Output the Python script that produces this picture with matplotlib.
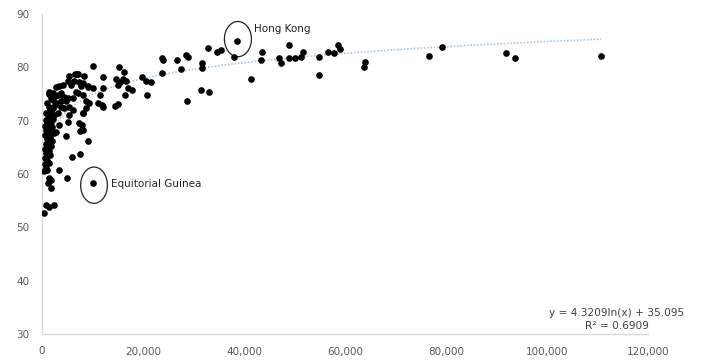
import matplotlib
matplotlib.use("Agg")
import matplotlib.pyplot as plt
from matplotlib.patches import Ellipse
import numpy as np

# GDP per capita (x) and life expectancy (y)
gdp_high = [31600, 31600, 31400, 33100, 32900, 34700, 35400, 38100, 38670, 41400,
            43600, 43300, 47000, 47300, 48850, 48850, 50100, 51350, 51600, 54850,
            54850, 56700, 57800, 58700, 59000, 63950, 63760, 76600, 79200, 91900,
            93650, 110700]
life_high = [80.9, 79.95, 75.75, 75.4, 83.55, 82.8, 83.25, 81.9, 85.0, 77.9,
             82.8, 81.3, 81.7, 80.9, 84.25, 81.7, 81.7, 82.0, 82.9, 81.9,
             78.55, 82.8, 82.6, 84.2, 83.4, 81.05, 80.1, 82.2, 83.75, 82.75,
             81.7, 82.2]

gdp_mid = [12000, 12150, 11800, 12150, 15250, 16250, 14650, 15450, 15950, 16650,
           15100, 16950, 17750, 16450, 14450, 15100, 19900, 20600, 21500, 20850,
           23700, 24000, 23800, 26800, 28600, 28900, 27450, 28750, 11150, 11480,
           10150]
life_mid = [78.25, 76.05, 72.9, 72.6, 80.0, 79.2, 77.8, 77.3, 77.9, 77.4,
            76.7, 76.05, 75.75, 74.8, 72.8, 73.2, 78.25, 77.4, 77.2, 74.9,
            81.8, 81.4, 79.0, 81.4, 82.3, 82.0, 79.7, 73.75, 73.25, 74.8,
            80.25]

gdp_low = [6550, 6850, 7150, 5400, 8380, 5100, 6400, 7400, 4100, 5750,
           7700, 2770, 3430, 9050, 6700, 7050, 2100, 1450, 3100, 3750,
           4400, 8050, 5100, 6080, 2100, 2770, 3760, 4750, 8700, 9370,
           1450, 2120, 3760, 4400, 5400, 8700, 1780, 2440, 3100, 6080,
           5400, 8050, 1450, 790, 1130, 1780, 5100, 7400, 3430, 8180,
           9100, 10040, 2770, 4750, 8050, 9050, 5940, 7520, 3300, 4900,
           1450, 1780, 1780, 1130, 790, 1450, 2440, 460, 7850, 7520,
           8180, 10150]
life_low = [78.75, 78.75, 78.75, 78.4, 78.4, 77.5, 77.5, 77.3, 76.7, 76.7,
            76.5, 76.25, 76.5, 76.4, 75.4, 75.1, 75.1, 75.4, 74.8, 75.1,
            74.5, 74.8, 74.2, 74.2, 73.9, 73.25, 73.6, 73.6, 73.6, 73.25,
            72.6, 72.3, 72.6, 72.3, 72.6, 72.3, 71.7, 71.1, 71.5, 72.0,
            71.1, 71.4, 70.75, 70.1, 69.5, 69.8, 69.8, 69.5, 69.2, 77.0,
            76.5, 76.1, 67.9, 67.1, 68.25, 66.2, 63.1, 63.7, 60.75, 59.2,
            59.2, 58.9, 57.3, 58.25, 54.2, 53.9, 54.2, 52.6, 69.2, 68.1,
            71.4, 58.25]

gdp_poor = [400, 700, 1000, 500, 900, 1300, 600, 1100, 1600, 800,
            1300, 500, 1000, 1700, 700, 1200, 2000, 900, 1500, 600,
            1100, 2300, 800, 1400, 1900, 600, 1000, 1500, 2200, 1100,
            700, 1500, 2500, 1000, 1800, 2500, 1300]
life_poor = [60.5, 61.2, 60.8, 61.9, 62.4, 62.0, 63.0, 63.3, 63.6, 64.0,
             64.3, 64.6, 65.0, 65.2, 65.6, 66.0, 66.2, 66.6, 66.9, 67.3,
             67.7, 67.6, 68.2, 68.5, 68.8, 69.0, 69.3, 70.0, 70.4, 71.0,
             71.4, 72.0, 72.9, 73.4, 74.2, 74.6, 75.0]

gdp = np.array(gdp_high + gdp_mid + gdp_low + gdp_poor, dtype=float)
life = np.array(life_high + life_mid + life_low + life_poor, dtype=float)

# log trendline coefficients as printed on the chart
slope = 4.3209
intercept = 35.095

W, H = 701, 360
fig = plt.figure(figsize=(W / 100, H / 100), dpi=100)
ax = fig.add_axes([42 / W, 1 - 334 / H, (648 - 42) / W, (334 - 14) / H])

xt = np.linspace(gdp.min(), gdp.max(), 300)
ax.plot(xt, slope * np.log(xt) + intercept, linestyle=(0, (1, 1)),
        color="#A9C8E8", lw=1.2, zorder=1)
ax.scatter(gdp, life, s=23, color="black", zorder=3, linewidths=0)

# annotations
ax.add_patch(Ellipse((38800, 85.3), 5350, 6.6, fill=False, ec="#222222", lw=0.9))
ax.text(42000, 87.2, "Hong Kong", fontsize=7.5, color="#222222", va="center")
ax.add_patch(Ellipse((10300, 57.9), 5300, 6.8, fill=False, ec="#222222", lw=0.9))
ax.text(13700, 58.1, "Equitorial Guinea", fontsize=7.5, color="#222222", va="center")

ax.text(113800, 32.75, "y = 4.3209ln(x) + 35.095\nR² = 0.6909", fontsize=7.6,
        color="#404040", ha="center", va="center", linespacing=1.45)

ax.set_xlim(0, 120000)
ax.set_ylim(30, 90)
ax.set_xticks(range(0, 120001, 20000))
ax.set_xticklabels([f"{v:,}" for v in range(0, 120001, 20000)])
ax.set_yticks(range(30, 91, 10))
ax.tick_params(length=0, labelsize=7.5, labelcolor="#595959", pad=9)
for s in ["top", "right"]:
    ax.spines[s].set_visible(False)
for s in ["left", "bottom"]:
    ax.spines[s].set_color("#D9D9D9")
    ax.spines[s].set_linewidth(1.0)

fig.savefig("out.png", dpi=100)
